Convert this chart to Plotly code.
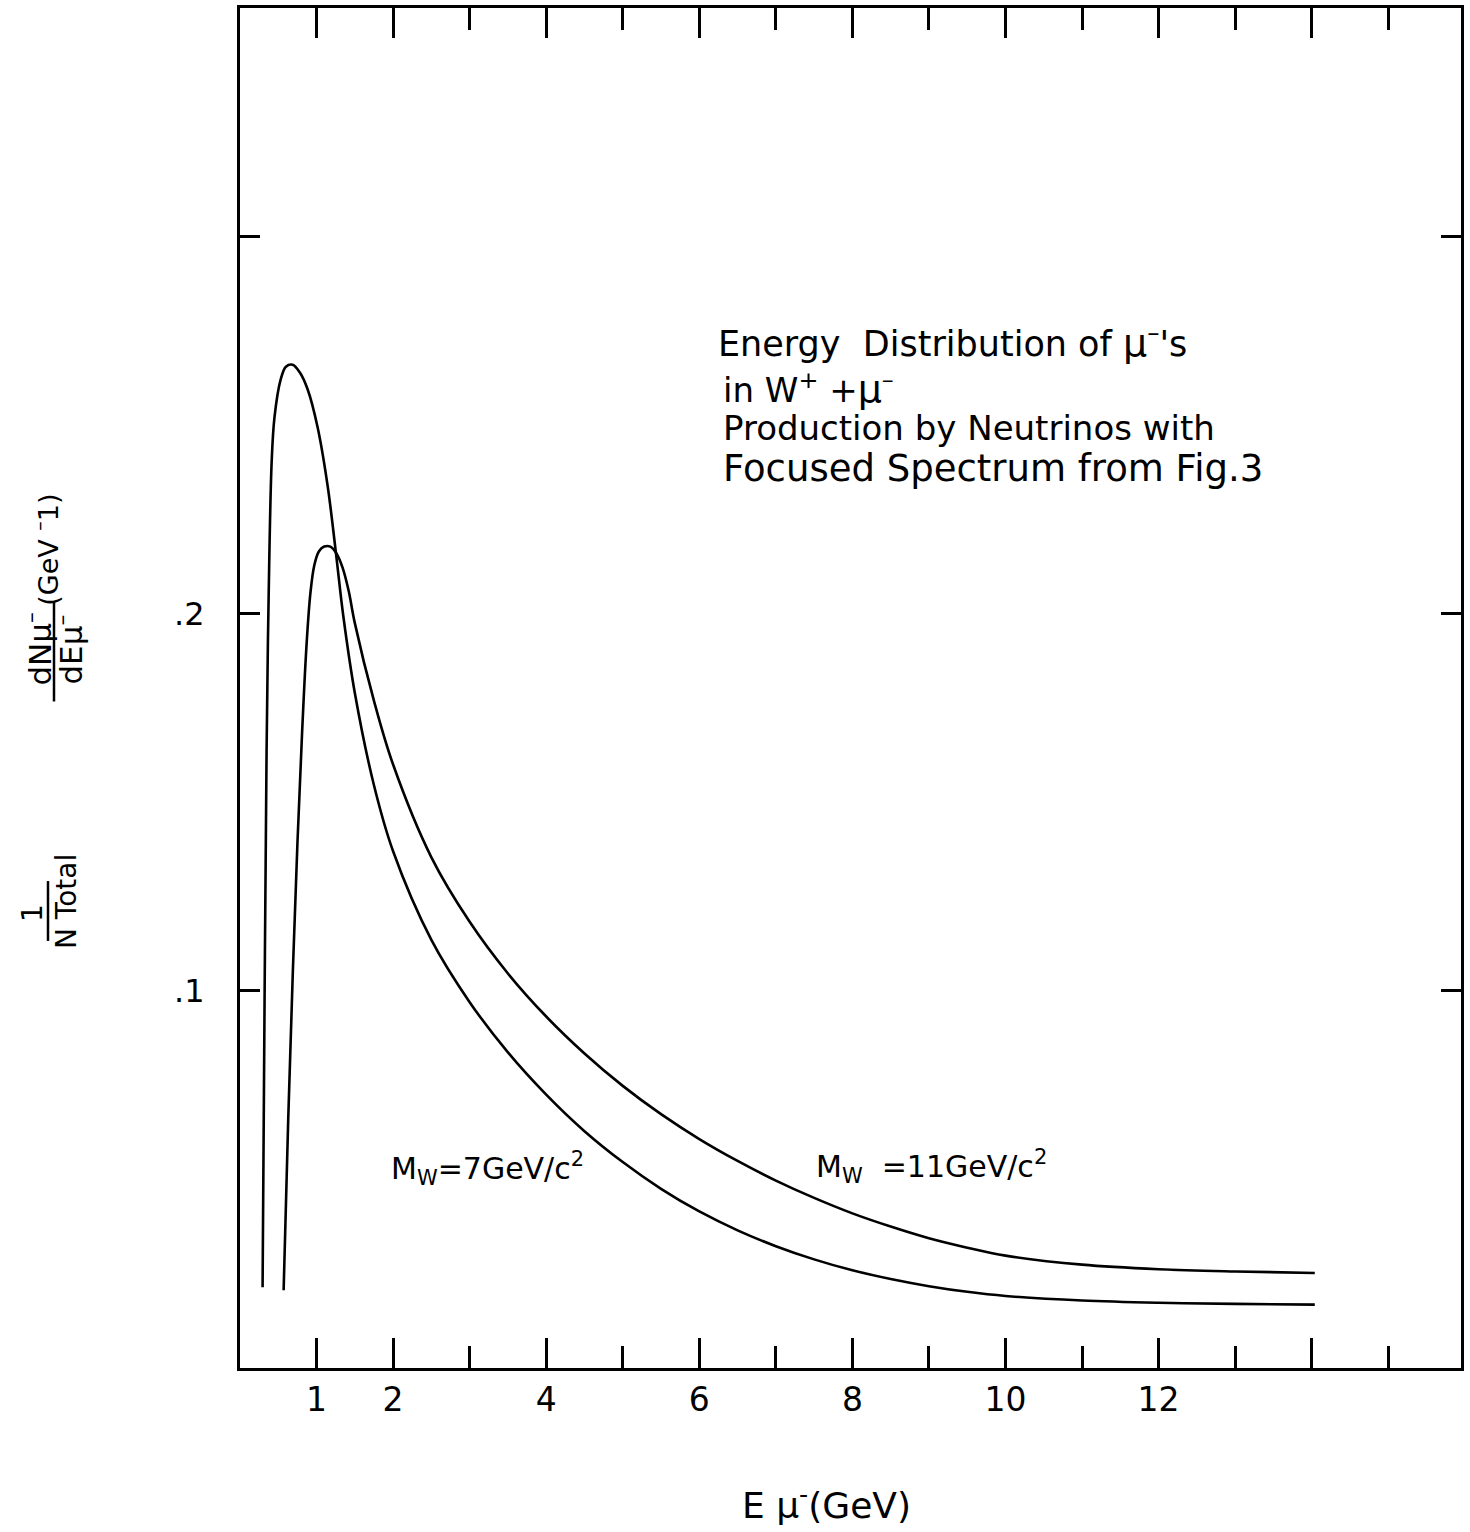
import plotly.graph_objects as go

# Muon energy (GeV) and normalized spectrum, M_W = 7 GeV/c^2
e_mw7 = [0.295, 0.321, 0.347, 0.373, 0.413, 0.45, 0.53, 0.60, 0.687, 0.78,
         0.883, 1.013, 1.144, 1.248, 1.352, 1.5, 1.75, 2.0, 2.5, 3.0,
         3.5, 4.0, 4.5, 5.0, 5.5, 6.0, 6.5, 7.0, 7.5, 8.0,
         8.5, 9.0, 9.5, 10.0, 11.0, 12.0, 13.0, 14.04]
dn_mw7 = [0.0214, 0.0974, 0.163, 0.203, 0.240, 0.252, 0.262, 0.2655, 0.266, 0.264,
          0.2595, 0.2495, 0.234, 0.217, 0.199, 0.179, 0.1545, 0.137, 0.1135, 0.0970,
          0.0837, 0.0725, 0.0628, 0.0546, 0.0475, 0.0415, 0.0365, 0.0323, 0.0288, 0.0259,
          0.0236, 0.0217, 0.0202, 0.0191, 0.0179, 0.0173, 0.0170, 0.0168]

# Muon energy (GeV) and normalized spectrum, M_W = 11 GeV/c^2
e_mw11 = [0.57, 0.63, 0.69, 0.75, 0.81, 0.87, 0.92, 0.97, 1.03, 1.10,
          1.18, 1.26, 1.34, 1.42, 1.5, 1.75, 2.0, 2.5, 3.0, 3.5,
          4.0, 4.5, 5.0, 5.5, 6.0, 6.5, 7.0, 7.5, 8.0, 8.5,
          9.0, 9.5, 10.0, 11.0, 12.0, 13.0, 14.04]
dn_mw11 = [0.0206, 0.066, 0.105, 0.139, 0.168, 0.192, 0.2055, 0.2128, 0.2165, 0.2178,
           0.2178, 0.216, 0.2122, 0.206, 0.1975, 0.1769, 0.1600, 0.1354, 0.1183, 0.1046,
           0.0932, 0.0834, 0.0748, 0.0673, 0.0607, 0.0549, 0.0497, 0.0451, 0.0410, 0.0375,
           0.0344, 0.0319, 0.0298, 0.0274, 0.0262, 0.0256, 0.0252]

# Axis ticks and their labels
x_major = [1, 2, 4, 6, 8, 10, 12, 14]
x_major_text = ["1", "2", "4", "6", "8", "10", "12", ""]
y_ticks = [0.1, 0.2, 0.3]
y_tick_text = [".1", ".2", ""]

W, H = 1470, 1532
L, R, T, B = 240, 1461, 5, 1368
FONT = "DejaVu Sans"


def px(x):
    return (x - L) / (R - L)


def py(y):
    return (B - y) / (B - T)


fig = go.Figure()
for xs, ys in ((e_mw7, dn_mw7), (e_mw11, dn_mw11)):
    fig.add_trace(go.Scatter(
        x=xs, y=ys, mode="lines",
        line=dict(color="black", width=2.6, shape="spline", smoothing=1.0),
        showlegend=False, hoverinfo="skip",
    ))

annotations = []


def note(text, x, y, size, xanchor="center", yanchor="middle", angle=0):
    annotations.append(dict(
        text=text, x=px(x), y=py(y), xref="paper", yref="paper",
        xanchor=xanchor, yanchor=yanchor, textangle=angle, showarrow=False,
        font=dict(family=FONT, size=size, color="black"),
    ))


MU = '<span style="font-size:38px">μ</span>'

# Title block inside the frame
note("Energy  Distribution of " + MU + "<sup>–</sup>'s", 716, 339, 35, xanchor="left")
note("in W<sup>+</sup> +" + MU + "<sup>–</sup>", 721, 386, 34, xanchor="left")
note("Production by Neutrinos with", 721, 426, 34, xanchor="left")
note("Focused Spectrum from Fig.3", 721, 467, 37, xanchor="left")

# Curve labels
note("M<sub>W</sub>=7GeV/c<sup>2</sup>", 389, 1168, 30, xanchor="left")
note("M<sub>W</sub>  =11GeV/c<sup>2</sup>", 814, 1166, 30, xanchor="left")

# X axis title
note("E μ<sup>-</sup>(GeV)", 826, 1503, 36)

# Y axis title, written bottom to top as stacked fractions
note("1", 32, 912, 28, angle=-90)
note("N Total", 66, 900, 28, angle=-90)
note("dNμ<sup>–</sup>", 38, 648, 31, angle=-90)
note("dEμ<sup>–</sup>", 69, 648, 31, angle=-90)
note("(GeV <sup>–</sup>1)", 46, 548, 27, angle=-90)

shapes = [
    dict(type="line", xref="paper", yref="paper",
         x0=px(48), x1=px(48), y0=py(880), y1=py(940),
         line=dict(color="black", width=2.5)),
    dict(type="line", xref="paper", yref="paper",
         x0=px(54), x1=px(54), y0=py(600), y1=py(700),
         line=dict(color="black", width=2.5)),
]

fig.update_layout(
    width=W, height=H, autosize=False,
    margin=dict(l=L, r=W - R, t=T, b=H - B),
    paper_bgcolor="white", plot_bgcolor="white",
    annotations=annotations, shapes=shapes,
    xaxis=dict(
        range=[0, 15.95], showgrid=False, zeroline=False,
        showline=True, linecolor="black", linewidth=3, mirror="ticks",
        tickmode="array", tickvals=x_major, ticktext=x_major_text,
        ticks="inside", ticklen=30, tickwidth=3, tickcolor="black",
        ticklabelstandoff=0,
        minor=dict(tickmode="linear", tick0=0, dtick=1, ticks="inside",
                   ticklen=22, tickwidth=3, tickcolor="black", showgrid=False),
        tickfont=dict(family=FONT, size=33, color="black"),
    ),
    yaxis=dict(
        range=[0, 0.3606], showgrid=False, zeroline=False,
        showline=True, linecolor="black", linewidth=3, mirror="ticks",
        tickmode="array", tickvals=y_ticks, ticktext=y_tick_text,
        ticks="inside", ticklen=20, tickwidth=3, tickcolor="black",
        ticklabelstandoff=26,
        tickfont=dict(family=FONT, size=32, color="black"),
    ),
)

fig.write_html("out.html")
